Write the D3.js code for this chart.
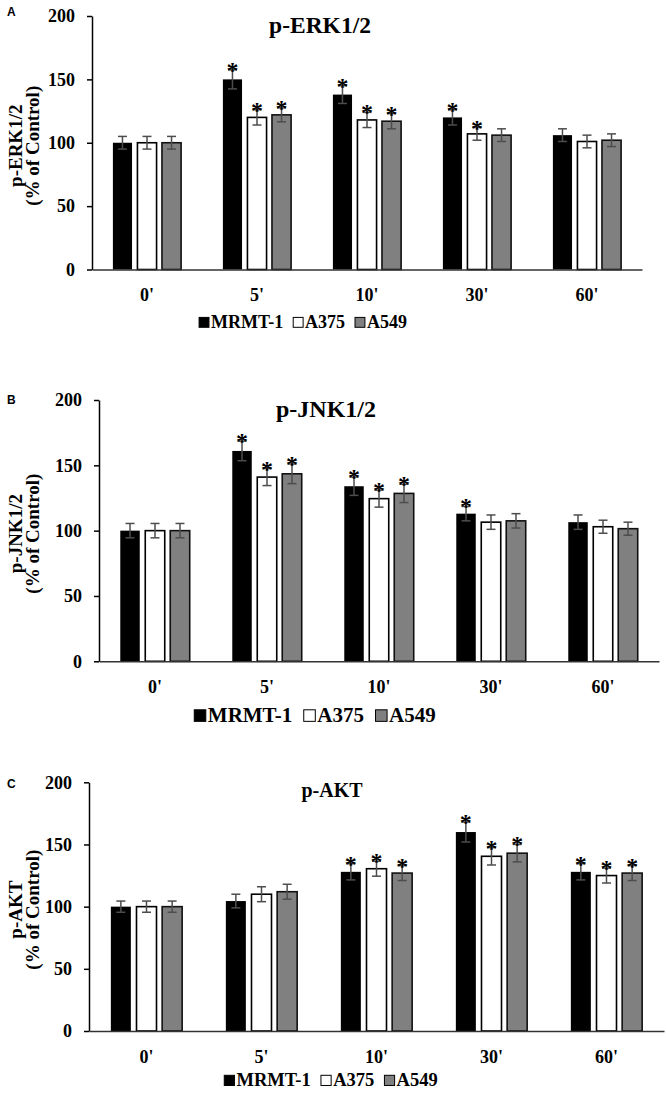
<!DOCTYPE html>
<html>
<head>
<meta charset="utf-8">
<script src="https://cdn.jsdelivr.net/npm/d3@7"></script>
<style>
html,body{margin:0;padding:0;background:#fff;}
svg{display:block;}
</style>
</head>
<body>
<svg id="chart" width="666" height="1093"></svg>
<script>
// ---------- data ----------
const categories = ["0'", "5'", "10'", "30'", "60'"];
const seriesNames = ["MRMT-1", "A375", "A549"];
const yTicks = [0, 50, 100, 150, 200];

const panelLetters = ["A", "B", "C"];
const panelTitles = ["p-ERK1/2", "p-JNK1/2", "p-AKT"];
const yLabelTop = ["p-ERK1/2", "p-JNK1/2", "p-AKT"];
const yLabelBottom = "(% of Control)";

// p-ERK1/2
const erkMRMT = [100, 150, 138, 120, 106];
const erkA375 = [100, 120, 118, 107, 101];
const erkA549 = [100, 122, 117, 106, 102];
const erkMRMTErr = [5, 7.5, 7, 6, 5];
const erkA375Err = [5, 6, 6, 5, 5];
const erkA549Err = [5, 5.5, 6, 5, 5];
const erkMRMTSig = [0, 1, 1, 1, 0];
const erkA375Sig = [0, 1, 1, 1, 0];
const erkA549Sig = [0, 1, 1, 0, 0];

// p-JNK1/2
const jnkMRMT = [100, 161, 134, 113, 106.5];
const jnkA375 = [100, 141, 124.5, 106.5, 103];
const jnkA549 = [100, 143.5, 128.5, 107.5, 101.5];
const jnkMRMTErr = [5.5, 7.5, 7, 5.5, 5.5];
const jnkA375Err = [5.5, 6.5, 6.5, 5.5, 5];
const jnkA549Err = [5.5, 7.5, 7, 5.5, 5];
const jnkMRMTSig = [0, 1, 1, 1, 0];
const jnkA375Sig = [0, 1, 1, 0, 0];
const jnkA549Sig = [0, 1, 1, 0, 0];

// p-AKT
const aktMRMT = [100, 104.5, 128, 160, 128];
const aktA375 = [100, 110, 130.5, 140.5, 125];
const aktA549 = [100, 112, 127, 143, 127];
const aktMRMTErr = [4.5, 5.5, 6.5, 8, 6.5];
const aktA375Err = [4.5, 6, 6, 7, 6];
const aktA549Err = [4.5, 6, 6, 7, 6];
const aktMRMTSig = [0, 0, 1, 1, 1];
const aktA375Sig = [0, 0, 1, 1, 1];
const aktA549Sig = [0, 0, 1, 1, 1];

// ---------- styling / layout ----------
const fills = ["#000000", "#ffffff", "#808080"];
const strokes = ["#000000", "#000000", "#111111"];
const serif = "'Liberation Serif','Times New Roman',serif";

const panels = [
  {vals:[erkMRMT,erkA375,erkA549], errs:[erkMRMTErr,erkA375Err,erkA549Err], sig:[erkMRMTSig,erkA375Sig,erkA549Sig],
   x0:92, x1:642, yTop:16, yBot:269.5, titleX:320, titleY:33, titleSize:23.5,
   legendX:303, legendY:322, legendSize:18, letterY:16},
  {vals:[jnkMRMT,jnkA375,jnkA549], errs:[jnkMRMTErr,jnkA375Err,jnkA549Err], sig:[jnkMRMTSig,jnkA375Sig,jnkA549Sig],
   x0:99, x1:659, yTop:400, yBot:661.3, titleX:326, titleY:417, titleSize:24,
   legendX:315, legendY:715, legendSize:21, letterY:404},
  {vals:[aktMRMT,aktA375,aktA549], errs:[aktMRMTErr,aktA375Err,aktA549Err], sig:[aktMRMTSig,aktA375Sig,aktA549Sig],
   x0:89, x1:664, yTop:782.3, yBot:1031, titleX:332, titleY:797, titleSize:20,
   legendX:331, legendY:1080, legendSize:18.5, letterY:788}
];

const svg = d3.select("#chart");

panels.forEach((p, pi) => {
  const g = svg.append("g");
  const x = d3.scaleBand().domain(categories).range([p.x0, p.x1]).paddingInner(0.38).paddingOuter(0.19);
  const xs = d3.scaleBand().domain(seriesNames).range([0, x.bandwidth()]).paddingInner(0.22);
  const y = d3.scaleLinear().domain([0, 200]).range([p.yBot, p.yTop]);

  // bars
  seriesNames.forEach((s, si) => {
    const data = categories.map((c, ci) => ({c, v: p.vals[si][ci], e: p.errs[si][ci], sig: p.sig[si][ci]}));
    const sg = g.append("g");
    sg.selectAll("rect").data(data).join("rect")
      .attr("x", d => x(d.c) + xs(s))
      .attr("y", d => y(d.v))
      .attr("width", xs.bandwidth())
      .attr("height", d => y(0) - y(d.v))
      .attr("fill", fills[si])
      .attr("stroke", strokes[si])
      .attr("stroke-width", si === 0 ? 0 : 1.6);
    // error bars
    const eg = sg.selectAll("g.err").data(data).join("g").attr("class", "err")
      .attr("stroke", "#4d4d4d").attr("stroke-width", 1.5);
    const cx = d => x(d.c) + xs(s) + xs.bandwidth() / 2;
    eg.append("line").attr("x1", cx).attr("x2", cx).attr("y1", d => y(d.v + d.e)).attr("y2", d => y(d.v - d.e));
    eg.append("line").attr("x1", d => cx(d) - 4.5).attr("x2", d => cx(d) + 4.5).attr("y1", d => y(d.v + d.e)).attr("y2", d => y(d.v + d.e));
    eg.append("line").attr("x1", d => cx(d) - 4.5).attr("x2", d => cx(d) + 4.5).attr("y1", d => y(d.v - d.e)).attr("y2", d => y(d.v - d.e));
    // asterisks
    sg.selectAll("text.sig").data(data.filter(d => d.sig)).join("text").attr("class", "sig")
      .attr("x", cx).attr("y", d => y(d.v + d.e) + 8)
      .attr("text-anchor", "middle")
      .attr("font-family", serif).attr("font-weight", "bold").attr("font-size", 24)
      .text("*");
  });

  // y axis
  const ya = g.append("g").attr("transform", `translate(${p.x0},0)`)
    .call(d3.axisLeft(y).tickValues(yTicks).tickSize(5).tickSizeOuter(0).tickPadding(12));
  ya.select(".domain").attr("stroke", "#000").attr("stroke-width", 1.5);
  ya.selectAll(".tick line").attr("stroke", "#000").attr("stroke-width", 1.5);
  ya.selectAll(".tick text").attr("font-family", serif).attr("font-weight", "bold").attr("font-size", 18).attr("fill", "#000");

  // x axis
  const xa = g.append("g").attr("transform", `translate(0,${p.yBot})`)
    .call(d3.axisBottom(x).tickSize(0).tickPadding(19));
  xa.select(".domain").attr("stroke", "#333").attr("stroke-width", 1.5);
  xa.selectAll(".tick text").attr("font-family", serif).attr("font-weight", "bold").attr("font-size", 18).attr("fill", "#000");

  // title
  g.append("text").attr("x", p.titleX).attr("y", p.titleY).attr("text-anchor", "middle")
    .attr("font-family", serif).attr("font-weight", "bold").attr("font-size", p.titleSize).text(panelTitles[pi]);

  // panel letter
  g.append("text").attr("x", 7).attr("y", p.letterY)
    .attr("font-family", "'Liberation Sans',Arial,sans-serif").attr("font-weight", "bold").attr("font-size", 12)
    .text(panelLetters[pi]);

  // y label
  const ymid = (p.yTop + p.yBot) / 2 + 3;
  const yl = g.append("text").attr("transform", `translate(22,${ymid}) rotate(-90)`)
    .attr("text-anchor", "middle").attr("font-family", serif).attr("font-weight", "bold").attr("font-size", 19);
  yl.append("tspan").attr("x", 0).attr("dy", 0).text(yLabelTop[pi]);
  yl.append("tspan").attr("x", 0).attr("dy", 17).text(yLabelBottom);

  // legend
  const lg = g.append("g");
  const fs = p.legendSize;
  const sq = fs * 0.55;
  let cur = 0;
  seriesNames.forEach((s, si) => {
    lg.append("rect").attr("x", cur).attr("y", -sq - 1).attr("width", sq).attr("height", sq)
      .attr("fill", fills[si]).attr("stroke", "#000").attr("stroke-width", 1);
    const t = lg.append("text").attr("x", cur + sq + 2).attr("y", 0)
      .attr("font-family", serif).attr("font-weight", "bold").attr("font-size", fs).text(s);
    cur += sq + 2 + t.node().getComputedTextLength() + fs * 0.55;
  });
  const total = cur - fs * 0.55;
  lg.attr("transform", `translate(${p.legendX - total / 2},${p.legendY + fs * 0.35})`);
});
</script>
</body>
</html>
